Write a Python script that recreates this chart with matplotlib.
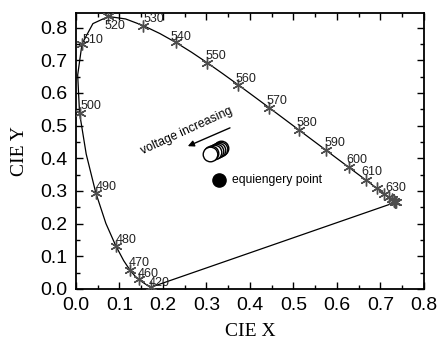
import matplotlib
matplotlib.use("Agg")
import matplotlib.pyplot as plt
from matplotlib.ticker import MultipleLocator

# CIE 1931 spectral locus, 5 nm steps (420..700 nm)
locus_nm = [420, 425, 430, 435, 440, 445, 450, 455, 460, 465, 470, 475, 480,
            485, 490, 495, 500, 505, 510, 515, 520, 525, 530, 535, 540, 545,
            550, 555, 560, 565, 570, 575, 580, 585, 590, 595, 600, 605, 610,
            615, 620, 625, 630, 635, 640, 645, 650, 655, 660, 665, 670, 680,
            690, 700]
locus_x = [0.1714, 0.1703, 0.1689, 0.1669, 0.1644, 0.1611, 0.1566, 0.1510,
           0.1440, 0.1355, 0.1241, 0.1096, 0.0913, 0.0687, 0.0454, 0.0235,
           0.0082, 0.0039, 0.0139, 0.0389, 0.0743, 0.1142, 0.1547, 0.1929,
           0.2296, 0.2658, 0.3016, 0.3373, 0.3731, 0.4087, 0.4441, 0.4788,
           0.5125, 0.5448, 0.5752, 0.6029, 0.6270, 0.6482, 0.6658, 0.6801,
           0.6915, 0.7006, 0.7079, 0.7140, 0.7190, 0.7230, 0.7260, 0.7283,
           0.7300, 0.7311, 0.7320, 0.7334, 0.7344, 0.7347]
locus_y = [0.0051, 0.0058, 0.0069, 0.0086, 0.0109, 0.0138, 0.0177, 0.0227,
           0.0297, 0.0399, 0.0578, 0.0868, 0.1327, 0.2007, 0.2950, 0.4127,
           0.5384, 0.6548, 0.7502, 0.8120, 0.8338, 0.8262, 0.8059, 0.7816,
           0.7543, 0.7243, 0.6923, 0.6589, 0.6245, 0.5896, 0.5547, 0.5202,
           0.4866, 0.4544, 0.4242, 0.3965, 0.3725, 0.3514, 0.3340, 0.3197,
           0.3083, 0.2993, 0.2920, 0.2859, 0.2809, 0.2770, 0.2740, 0.2717,
           0.2700, 0.2689, 0.2680, 0.2666, 0.2656, 0.2653]

# wavelengths marked with a star
marked_nm = [420, 460, 470, 480, 490, 500, 510, 520, 530, 540, 550, 560, 570,
             580, 590, 600, 610, 620, 630, 640, 650, 660, 670, 680, 690, 700]

# wavelength labels and their offsets (points)
label_nm = [420, 460, 470, 480, 490, 500, 510, 520, 530, 540, 550, 560, 570,
            580, 590, 600, 610, 630]
label_off = {420: (-1, 3), 460: (-1, 4), 470: (-1, 5), 480: (0, 4),
             490: (0, 4), 500: (1, 5), 510: (0, 3), 520: (-3, -7),
             530: (0, 5), 540: (-4, 4), 550: (-1, 5), 560: (-2, 4.5),
             570: (-2, 5), 580: (-2, 5), 590: (-1, 5), 600: (-2, 5),
             610: (-3, 6), 630: (1, 4)}

# measured colour coordinates under rising voltage (open circles)
meas_x = [0.333, 0.330, 0.326, 0.322, 0.317, 0.311, 0.307]
meas_y = [0.431, 0.429, 0.426, 0.423, 0.420, 0.416, 0.413]

# equal-energy point
eq_x, eq_y = 0.329, 0.332

plt.rcParams['font.family'] = ['Liberation Sans', 'DejaVu Sans']

fig = plt.figure(figsize=(4.4, 3.41), dpi=100)
ax = fig.add_axes([0.1727, 0.1525, 0.7909, 0.8094])

# closed locus (line of purples back to 420 nm)
ax.plot(locus_x + [locus_x[0]], locus_y + [locus_y[0]], color='black', lw=0.9,
        zorder=2)

mx = [locus_x[locus_nm.index(w)] for w in marked_nm]
my = [locus_y[locus_nm.index(w)] for w in marked_nm]
ax.plot(mx, my, linestyle='none', marker=(6, 2, 0), markersize=8.5,
        markeredgecolor='#4d4d4d', markeredgewidth=1.0, zorder=3)

for w in label_nm:
    i = locus_nm.index(w)
    ax.annotate(str(w), (locus_x[i], locus_y[i]), xytext=label_off[w],
                textcoords='offset points', fontsize=9, ha='left',
                va='center', color='#222222', zorder=4)

for x, y in zip(meas_x, meas_y):
    ax.plot(x, y, 'o', markersize=10.5, markerfacecolor='white',
            markeredgecolor='black', markeredgewidth=1.0, zorder=5)

ax.plot(eq_x, eq_y, 'o', markersize=9.5, color='black', zorder=5)
ax.annotate('equiengery point', (eq_x, eq_y), xytext=(9, 0),
            textcoords='offset points', fontsize=8.7, va='center', ha='left')

ax.text(0.254, 0.484, 'voltage increasing', fontsize=8.8, rotation=24.5,
        rotation_mode='anchor', ha='center', va='center')
ax.annotate('', xy=(0.257, 0.437), xytext=(0.354, 0.493),
            arrowprops=dict(arrowstyle='-|>', color='black', lw=1.0,
                            mutation_scale=9, shrinkA=0, shrinkB=0))

ax.set_xlim(0, 0.8)
ax.set_ylim(0, 0.8445)
ax.xaxis.set_major_locator(MultipleLocator(0.1))
ax.xaxis.set_minor_locator(MultipleLocator(0.05))
ax.yaxis.set_major_locator(MultipleLocator(0.1))
ax.yaxis.set_minor_locator(MultipleLocator(0.05))
ax.tick_params(which='both', direction='in', top=True, right=True, width=1.0,
               labelsize=14, pad=6)
ax.tick_params(which='major', length=5)
ax.tick_params(which='minor', length=3)
for s in ax.spines.values():
    s.set_linewidth(1.3)

ax.set_xlabel('CIE X', family='Liberation Serif', fontsize=14, labelpad=6)
ax.set_ylabel('CIE Y', family='Liberation Serif', fontsize=14, labelpad=9)

fig.savefig('out.png', dpi=100)
